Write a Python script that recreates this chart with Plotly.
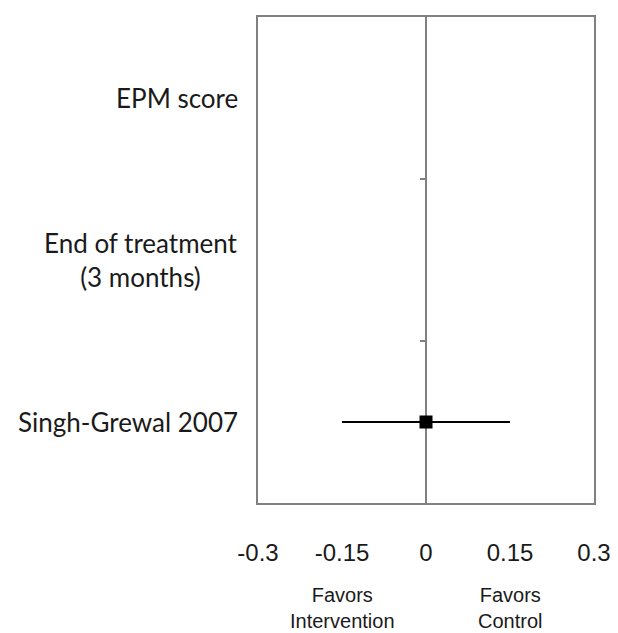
import plotly.graph_objects as go

# Data
row_labels = ["EPM score", "End of treatment<br>(3 months)", "Singh-Grewal 2007"]
row_pos = [2, 1, 0]
study_rows = [0]
study_effect = [0.0]
study_ci_half = [0.15]
x_ticks = [-0.3, -0.15, 0, 0.15, 0.3]
x_tick_text = ["-0.3", "-0.15", "0", "0.15", "0.3"]
boundary_ticks = [0.5, 1.5]
favor_text = ["Favors<br>Intervention", "Favors<br>Control"]
favor_pos = [-0.15, 0.15]

GRAY = "#808080"

fig = go.Figure()
fig.add_trace(go.Scatter(
    x=study_effect, y=study_rows, mode="markers",
    marker=dict(symbol="square", size=13, color="black"),
    error_x=dict(type="data", array=study_ci_half, symmetric=True,
                 color="black", thickness=2, width=0),
    showlegend=False,
))
# invisible trace for yaxis2 ticks
fig.add_trace(go.Scatter(x=[0], y=[1], yaxis="y2", mode="markers",
                         marker=dict(opacity=0), showlegend=False, hoverinfo="skip"))

for lab, yv in zip(row_labels, row_pos):
    fig.add_annotation(text=lab, x=-0.054, xref="paper", y=yv, yref="y",
                       xanchor="right", yanchor="middle", align="center",
                       showarrow=False,
                       font=dict(family="Lato, Carlito, Calibri, sans-serif", size=26, color="#1a1a1a"))

for t, xv in zip(favor_text, favor_pos):
    fig.add_annotation(text=t, x=xv, xref="x", y=-0.163, yref="paper",
                       xanchor="center", yanchor="top", align="center",
                       showarrow=False,
                       font=dict(family="Liberation Sans, Arial, sans-serif", size=20, color="#1a1a1a"))

fig.update_layout(
    width=610, height=625,
    margin=dict(l=250, r=20, t=7, b=130),
    paper_bgcolor="white", plot_bgcolor="white",
    xaxis=dict(range=[-0.3, 0.3], tickvals=x_ticks, ticktext=x_tick_text,
               showgrid=False, zeroline=True, zerolinecolor=GRAY, zerolinewidth=2,
               showline=True, linecolor=GRAY, linewidth=2, mirror=True,
               ticks="", ticklabelstandoff=27,
               tickfont=dict(family="Liberation Sans, Arial, sans-serif", size=24, color="#1a1a1a"),
               fixedrange=True),
    yaxis=dict(range=[-0.5, 2.5], showticklabels=False, showgrid=False, zeroline=False,
               showline=True, linecolor=GRAY, linewidth=2, mirror=True, ticks=""),
    yaxis2=dict(range=[-0.5, 2.5], overlaying="y", anchor="free", position=0.5,
                side="left", tickvals=boundary_ticks, showticklabels=False,
                ticks="outside", ticklen=6, tickwidth=2, tickcolor=GRAY,
                showgrid=False, zeroline=False, showline=False),
)

fig.write_html("out.html")
